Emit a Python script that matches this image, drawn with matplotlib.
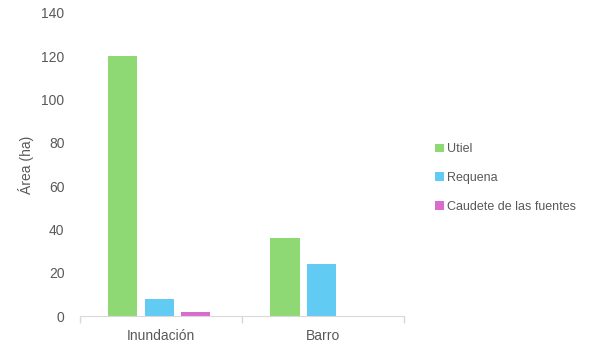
import numpy as np
import matplotlib.pyplot as plt

categories = ["Inundación", "Barro"]
series = ["Utiel", "Requena", "Caudete de las fuentes"]
utiel = [120, 36]
requena = [8, 24]
caudete = [2, 0]
colors = ["#8ED973", "#61CBF3", "#D86DCD"]

plt.rcParams['font.family'] = ['Liberation Sans', 'DejaVu Sans']
grey = "#595959"

fig = plt.figure(figsize=(5.96, 3.51), dpi=100)
ax = fig.add_axes([0.134, 0.0997, 0.544, 0.8633])

x = np.arange(len(categories))
width = 0.18
offsets = [-0.235, -0.01, 0.215]
for vals, name, col, off in zip([utiel, requena, caudete], series, colors, offsets):
    ax.bar(x + off, vals, width, color=col, label=name)

ax.set_xlim(-0.5, 1.5)
ax.set_ylim(0, 140)
ax.set_yticks(np.arange(0, 141, 20))
ax.set_xticks(x)
ax.set_xticklabels(categories)
ax.set_xticks([-0.5, 0.5, 1.5], minor=True)
ax.tick_params(axis='x', which='major', length=0, pad=9, labelsize=10, labelcolor=grey)
ax.tick_params(axis='x', which='minor', length=5, color="#D9D9D9", width=1)
ax.tick_params(axis='y', length=0, pad=11, labelsize=10, labelcolor=grey)

for s in ["top", "right", "left"]:
    ax.spines[s].set_visible(False)
ax.spines["bottom"].set_color("#D9D9D9")

ax.set_ylabel("Área (ha)", color=grey, fontsize=10)
ax.yaxis.set_label_coords(-0.14, 0.5)

ax.legend(loc="center left", bbox_to_anchor=(1.06, 0.455), frameon=False,
          fontsize=9, labelcolor=grey, handlelength=0.7, handleheight=0.7,
          handletextpad=0.3, labelspacing=1.35)

fig.savefig("out.png", dpi=100)
